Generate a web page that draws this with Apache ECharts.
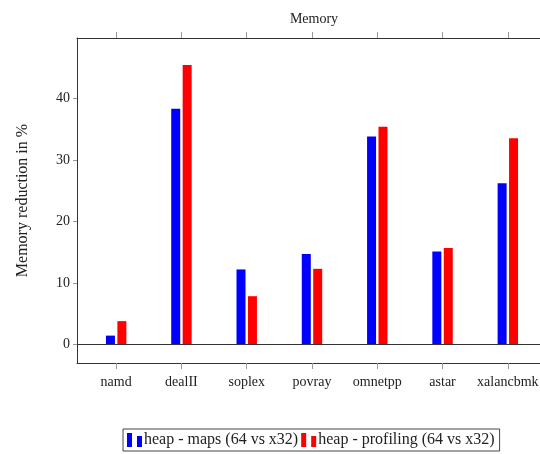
<!DOCTYPE html>
<html>
<head>
<meta charset="utf-8">
<script src="https://cdn.jsdelivr.net/npm/echarts@6/dist/echarts.min.js"></script>
<style>html,body{margin:0;padding:0;background:#fff;}#c{width:540px;height:454px;}</style>
</head>
<body>
<div id="c"></div>
<script>
var categories = ['namd', 'dealII', 'soplex', 'povray', 'omnetpp', 'astar', 'xalancbmk'];
var mapsValues = [1.45, 38.3, 12.2, 14.7, 33.8, 15.1, 26.2];
var profilingValues = [3.8, 45.4, 7.85, 12.3, 35.4, 15.7, 33.5];
var yTicks = [0, 10, 20, 30, 40];
var seriesNames = ['heap - maps (64 vs x32)', 'heap - profiling (64 vs x32)'];

var idx = categories.map(function (c, i) { return i; });
function pairs(vals) { return vals.map(function (v, i) { return [i, v]; }); }

var font = 'Liberation Serif';
var icon = 'path://M0,0h5v14h-5z M10,3h5v11h-5z';
var chart = echarts.init(document.getElementById('c'));
chart.setOption({
  animation: false,
  title: {
    text: 'Memory', left: 309, top: 7, textAlign: 'center',
    textStyle: { fontFamily: font, fontSize: 14, fontWeight: 'normal', color: '#222' }
  },
  grid: { left: 77, width: 470, top: 38, bottom: 91, containLabel: false, outerBoundsMode: 'none' },
  legend: {
    data: [
      { name: seriesNames[0], icon: icon },
      { name: seriesNames[1], icon: icon }
    ],
    left: 123, top: 429,
    itemWidth: 15, itemHeight: 14, itemGap: 3,
    padding: [3, 5, 3, 4],
    borderColor: '#444', borderWidth: 1, borderRadius: 0,
    textStyle: { fontFamily: font, fontSize: 16, color: '#222', padding: [0, 0, 0, -3] }
  },
  xAxis: [
    {
      type: 'value', min: -0.6, max: 6.6, position: 'bottom',
      axisLine: { show: true, onZero: false, lineStyle: { color: '#333', width: 1 } },
      axisTick: { show: true, customValues: idx, length: 6, lineStyle: { color: '#999' } },
      axisLabel: {
        customValues: idx, margin: 12,
        formatter: function (v) { return categories[Math.round(v)]; },
        fontFamily: font, fontSize: 14, color: '#222'
      },
      splitLine: { show: false }
    },
    {
      type: 'value', min: -0.6, max: 6.6, position: 'top',
      axisLine: { show: true, onZero: false, lineStyle: { color: '#333', width: 1 } },
      axisTick: { show: true, customValues: idx, length: 6, lineStyle: { color: '#999' } },
      axisLabel: { show: false },
      splitLine: { show: false }
    }
  ],
  yAxis: {
    type: 'value', min: -3, max: 49.8,
    name: 'Memory reduction in %', nameLocation: 'middle', nameGap: 46, nameRotate: 90,
    nameTextStyle: { fontFamily: font, fontSize: 16, color: '#222' },
    axisLine: { show: true, onZero: false, lineStyle: { color: '#333', width: 1 } },
    axisTick: { show: true, customValues: yTicks, length: 4, lineStyle: { color: '#999' } },
    axisLabel: { customValues: yTicks, margin: 7, fontFamily: font, fontSize: 14, color: '#222' },
    splitLine: { show: false }
  },
  series: [
    {
      name: seriesNames[0], type: 'bar', data: pairs(mapsValues),
      barWidth: 9, barGap: '27%',
      itemStyle: { color: '#0000ff' },
      markLine: {
        silent: true, symbol: 'none', label: { show: false },
        lineStyle: { color: '#333', width: 1, type: 'solid' },
        data: [{ yAxis: 0 }]
      }
    },
    {
      name: seriesNames[1], type: 'bar', data: pairs(profilingValues),
      barWidth: 9, barGap: '27%',
      itemStyle: { color: '#ff0000' }
    }
  ]
});
</script>
</body>
</html>
